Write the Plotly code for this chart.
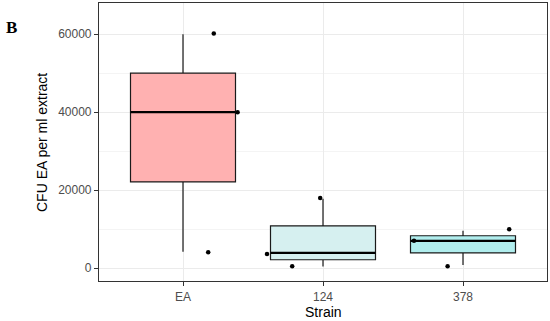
import numpy as np
import plotly.graph_objects as go

# Data
strains = ["EA", "124", "378"]
cfu_EA = [4200, 40000, 60000]
cfu_124 = [400, 3900, 17800]
cfu_378 = [800, 7000, 9600]
# jittered positions of plotted points
jitter_x_EA = [0.18, 0.39, 0.22]
jitter_x_124 = [-0.22, -0.40, -0.02]
jitter_x_378 = [-0.11, -0.35, 0.33]
shown_y_EA = [4100, 40000, 60200]
shown_y_124 = [500, 3600, 18000]
shown_y_378 = [500, 7000, 10000]
fill_colors = ["#FFB1B1", "#D6F0F0", "#B1EEEE"]
y_ticks = [0, 20000, 40000, 60000]
y_ticklabels = ["0", "20000", "40000", "60000"]

groups = [cfu_EA, cfu_124, cfu_378]
jx = [jitter_x_EA, jitter_x_124, jitter_x_378]
jy = [shown_y_EA, shown_y_124, shown_y_378]

fig = go.Figure()
for i, (name, vals) in enumerate(zip(strains, groups)):
    v = np.array(vals, dtype=float)
    q1, med, q3 = np.percentile(v, [25, 50, 75])
    iqr = q3 - q1
    lo = v[v >= q1 - 1.5 * iqr].min()
    hi = v[v <= q3 + 1.5 * iqr].max()
    fig.add_trace(go.Box(
        x=[i + 1], q1=[q1], median=[med], q3=[q3],
        lowerfence=[lo], upperfence=[hi],
        width=0.75, fillcolor=fill_colors[i],
        line=dict(color="#1a1a1a", width=1.2),
        boxpoints=False, showlegend=False, whiskerwidth=0,
        hoverinfo="skip",
    ))
    fig.add_trace(go.Scatter(
        x=[i + 1 - 0.375, i + 1 + 0.375], y=[med, med], mode="lines",
        line=dict(color="#000000", width=2.2), showlegend=False, hoverinfo="skip"))

for i in range(3):
    fig.add_trace(go.Scatter(
        x=[i + 1 + d for d in jx[i]], y=jy[i], mode="markers",
        marker=dict(color="black", size=4.5), showlegend=False))

fig.update_layout(
    width=550, height=321,
    margin=dict(l=99, r=3, t=3, b=40, autoexpand=False),
    paper_bgcolor="white", plot_bgcolor="white",
    font=dict(family="Liberation Sans, Arial, sans-serif", color="#4D4D4D"),
)
fig.update_xaxes(
    range=[0.4, 3.6], tickvals=[1, 2, 3], ticktext=strains,
    showgrid=True, gridcolor="#EBEBEB", gridwidth=1, automargin=False,
    zeroline=False, ticks="outside", ticklen=4, tickcolor="#333333",
    tickfont=dict(size=12, color="#4D4D4D"),
    showline=True, linecolor="#333333", linewidth=1.2, mirror=True,
)
fig.update_yaxes(
    range=[-3300, 68000], tickvals=y_ticks, ticktext=y_ticklabels,
    showgrid=True, gridcolor="#EBEBEB", gridwidth=1, automargin=False,
    minor=dict(tickvals=[10000, 30000, 50000], showgrid=True, gridcolor="#F4F4F4", gridwidth=0.6, ticks=""),
    zeroline=False, ticks="outside", ticklen=4, tickcolor="#333333",
    tickfont=dict(size=12, color="#4D4D4D"),
    showline=True, linecolor="#333333", linewidth=1.2, mirror=True,
)
pw, ph = 448, 278
fig.add_annotation(text="Strain", xref="paper", yref="paper",
                   x=0.5, y=-(312 - 281) / ph, xanchor="center", yanchor="middle",
                   showarrow=False, font=dict(size=14, color="#000000"))
fig.add_annotation(text="CFU EA per ml extract", xref="paper", yref="paper",
                   x=-(99 - 42) / pw, y=(281 - 143) / ph, xanchor="center", yanchor="middle",
                   textangle=-90, showarrow=False, font=dict(size=14, color="#000000"))
fig.add_annotation(text="<b>B</b>", xref="paper", yref="paper",
                   x=-(99 - 4) / pw, y=(281 - 27) / ph, xanchor="left", yanchor="middle",
                   showarrow=False, font=dict(family="Liberation Serif, Times New Roman, serif", size=17, color="#000000"))

fig.write_html("out.html", config={"displayModeBar": False},
               post_script="document.body.style.margin='0';")
